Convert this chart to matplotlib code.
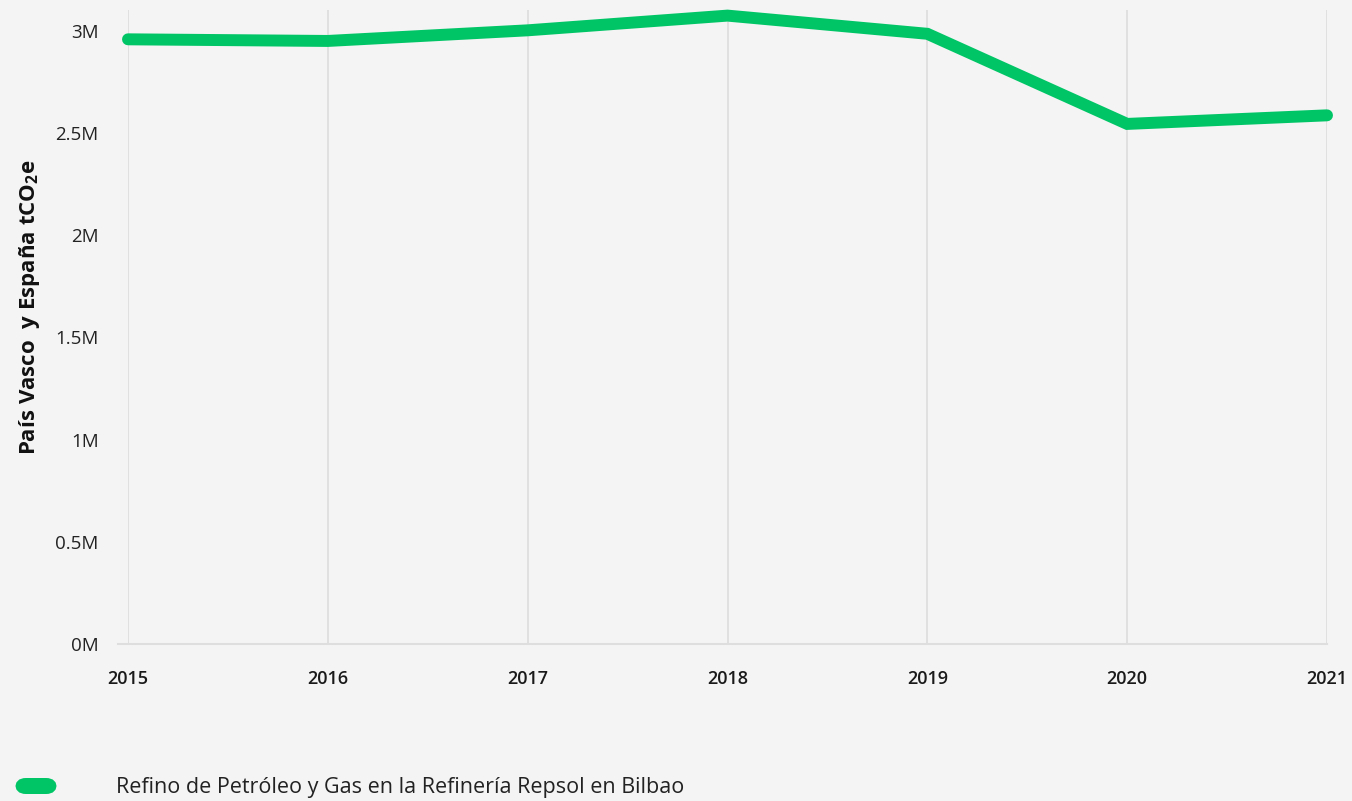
import numpy as np
import matplotlib.pyplot as plt
from matplotlib.lines import Line2D
from matplotlib.patches import FancyBboxPatch

plt.rcParams['font.family'] = ['Open Sans', 'DejaVu Sans']
plt.rcParams['mathtext.fontset'] = 'custom'
plt.rcParams['mathtext.rm'] = 'Open Sans'
plt.rcParams['mathtext.bf'] = 'Open Sans:bold'

# emisiones anuales (millones de tCO2e)
years = [2015, 2016, 2017, 2018, 2019, 2020, 2021]
emissions = [2.959, 2.951, 3.003, 3.075, 2.986, 2.545, 2.587]
ytick_vals = [0, 0.5, 1, 1.5, 2, 2.5, 3]
ytick_labels = ['0M', '0.5M', '1M', '1.5M', '2M', '2.5M', '3M']
series_name = 'Refino de Petróleo y Gas en la Refinería Repsol en Bilbao'
ylabel = r'País Vasco  y España tCO$_{\mathbf{2}}$e'

bg = '#f4f4f4'
green = '#00c566'
grid_col = '#dedede'

W, H = 1352, 801
fig = plt.figure(figsize=(W / 100, H / 100), dpi=100, facecolor=bg)
ax = fig.add_axes([128 / W, 1 - 644 / H, (1327 - 128) / W, (644 - 10.5) / H])
ax.set_facecolor(bg)

ax.plot(years, emissions, color=green, lw=8.6, solid_capstyle='round',
        solid_joinstyle='miter', clip_on=False, zorder=3)

ax.set_xlim(2015, 2021)
ax.set_ylim(0, 3.1)
ax.set_xticks(years)
ax.set_xticklabels([str(y) for y in years], fontsize=13, fontweight='semibold', color='#1a1a1a')
ax.set_yticks(ytick_vals)
ax.set_yticklabels(ytick_labels, fontsize=13.5, color='#222222')
ax.tick_params(axis='both', length=0)
ax.tick_params(axis='y', pad=21)
ax.tick_params(axis='x', pad=19)

for s in ax.spines.values():
    s.set_visible(False)
ax.grid(axis='x', color=grid_col, lw=1.3)
ax.set_axisbelow(True)

# línea base
ax.add_line(Line2D([-10 / 1199, 1], [0, 0], transform=ax.transAxes, color=grid_col,
                   lw=1.5, clip_on=False, zorder=1))

fig.text(30 / W, 1 - 307 / H, ylabel, rotation=90, ha='center', va='center',
         fontsize=16, fontweight='bold', color='#111111')

# leyenda
leg = FancyBboxPatch((15 / W, 1 - 794 / H), 42 / W, 16 / H,
                     boxstyle='round,pad=0,rounding_size=0.008',
                     transform=fig.transFigure, facecolor=green, edgecolor='none',
                     mutation_aspect=W / H)
fig.patches.append(leg)
fig.text(116 / W, 1 - 787 / H, series_name, ha='left', va='center',
         fontsize=15.5, color='#222222')

fig.savefig('out.png', dpi=100, facecolor=bg)
